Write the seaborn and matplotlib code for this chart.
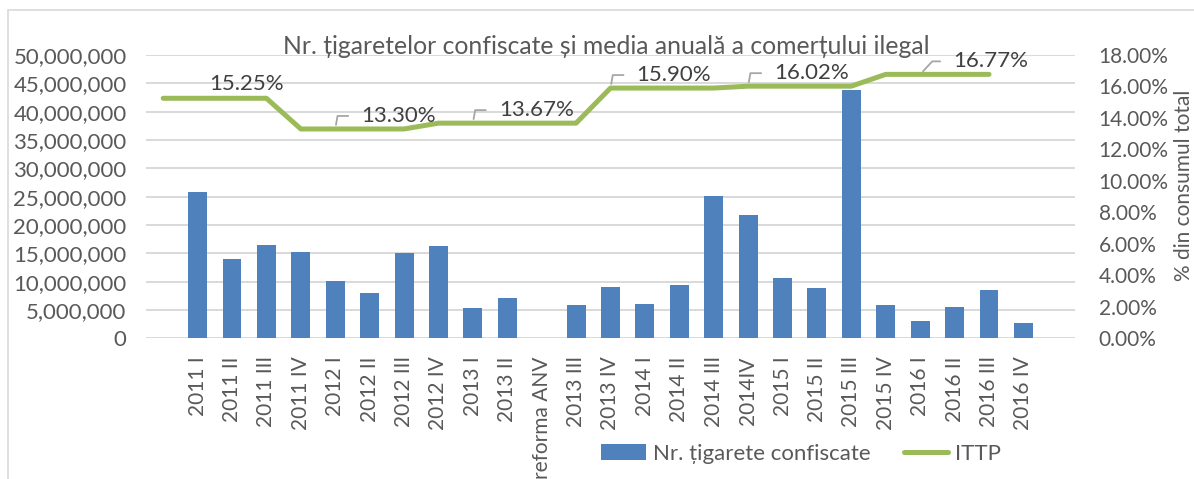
import numpy as np
import pandas as pd
import seaborn as sns
import matplotlib.pyplot as plt
from matplotlib.patches import Patch, Rectangle
from matplotlib.lines import Line2D
from matplotlib.ticker import FuncFormatter

# quarters (bars) and the ITTP line
quarters = ['2011 I', '2011 II', '2011 III', '2011 IV', '2012 I', '2012 II',
            '2012 III', '2012 IV', '2013 I', '2013 II', 'reforma ANV', '2013 III',
            '2013 IV', '2014 I', '2014 II', '2014 III', '2014IV', '2015 I',
            '2015 II', '2015 III', '2015 IV', '2016 I', '2016 II', '2016 III',
            '2016 IV']
confiscate = [25.76e6, 13.94e6, 16.47e6, 15.24e6, 10.12e6, 8.06e6,
              15.06e6, 16.29e6, 5.41e6, 7.18e6, 0, 5.82e6,
              9.12e6, 6.0e6, 9.41e6, 25.18e6, 21.76e6, 10.65e6,
              8.88e6, 43.8e6, 5.88e6, 3.12e6, 5.53e6, 8.47e6,
              2.76e6]
ittp = [15.25, 15.25, 15.25, 15.25, 13.30, 13.30, 13.30, 13.30,
        13.67, 13.67, 13.67, 13.67, 13.67, 15.90, 15.90, 15.90, 15.90,
        16.02, 16.02, 16.02, 16.02, 16.77, 16.77, 16.77, 16.77]
label_idx = [2, 5, 9, 13, 17, 22]

title = 'Nr. țigaretelor confiscate și media anuală a comerțului ilegal'
bar_name = 'Nr. țigarete confiscate'
line_name = 'ITTP'
right_label = '% din consumul total'

sns.set_style('white')
plt.rcParams['font.family'] = ['Lato', 'DejaVu Sans']
txt = '#595959'
blue = '#4f81bd'
green = '#9bbb59'
grid = '#d9d9d9'
fs = 16

df = pd.DataFrame({'pos': np.arange(1, len(quarters) + 1), 'val': confiscate})
line_df = pd.DataFrame({'pos': np.arange(0, len(ittp)), 'val': ittp})

fig = plt.figure(figsize=(11.94, 4.79), dpi=100)
ax = fig.add_axes([146 / 1194, 1 - 338.3 / 479, 929 / 1194, 283.3 / 479])
ax2 = ax.twinx()

sns.barplot(data=df, x='pos', y='val', native_scale=True, color=blue,
            saturation=1, width=0.55, linewidth=0, ax=ax)
sns.lineplot(data=line_df, x='pos', y='val', color=green, linewidth=3.6,
             solid_capstyle='round', ax=ax2)

ax.set_xlim(-0.5, len(quarters) + 1.5)
ax.set_ylim(0, 50e6)
ax.set_yticks(np.arange(0, 50e6 + 1, 5e6))
ax.yaxis.set_major_formatter(FuncFormatter(lambda v, p: f'{v:,.0f}'))
ax.set_xticks(df['pos'])
ax.set_xticklabels(quarters, rotation=90)
ax.set_axisbelow(True)
ax.grid(axis='y', color=grid, linewidth=1.4)
ax.grid(axis='x', visible=False)
ax.set_xlabel('')
ax.set_ylabel('')
ax.tick_params(axis='y', length=0, pad=14, labelsize=fs, labelcolor=txt)
ax.tick_params(axis='x', length=0, pad=13, labelsize=15, labelcolor=txt)

ax2.set_ylim(0, 18)
ax2.set_yticks(np.arange(0, 18.1, 2))
ax2.yaxis.set_major_formatter(FuncFormatter(lambda v, p: f'{v:.2f}%'))
ax2.tick_params(axis='y', length=0, pad=17, labelsize=15, labelcolor=txt)
ax2.grid(False)
ax2.set_xlabel('')
ax2.set_ylabel(right_label, fontsize=15, color=txt)
ax2.yaxis.set_label_coords(1.1065, 0.541)

for a in (ax, ax2):
    for s in a.spines.values():
        s.set_visible(False)

# data labels with leader lines
for i in label_idx:
    v = ittp[i]
    if i == label_idx[0]:
        ax2.annotate(f'{v:.2f}%', xy=(i, v), xytext=(14, 14),
                     textcoords='offset pixels', ha='center', va='center',
                     fontsize=fs, color='#404040')
        continue
    if i == label_idx[-1]:
        off, slant = (33, 13), 47
    else:
        off, slant = (26, 13), 80
    ax2.annotate(f'{v:.2f}%', xy=(i, v), xytext=off,
                 textcoords='offset pixels', ha='left', va='center',
                 fontsize=fs, color='#404040',
                 arrowprops=dict(arrowstyle='-', color='#a6a6a6', lw=1.3,
                                 relpos=(0, 0.5), shrinkA=7, shrinkB=3,
                                 connectionstyle=f'angle,angleA=180,angleB={slant},rad=0'))

fig.text(606 / 1194, 1 - 46 / 479, title, ha='center', va='center',
         fontsize=17.8, color=txt)

handles = [Patch(facecolor=blue, edgecolor='none'),
           Line2D([0], [0], color=green, linewidth=3.6, solid_capstyle='round')]
fig.legend(handles, [bar_name, line_name], loc='center',
           bbox_to_anchor=(801 / 1194, 1 - 454 / 479), ncol=2, frameon=False,
           fontsize=fs, labelcolor=txt, handlelength=2.0, handleheight=0.7,
           handletextpad=0.3, columnspacing=1.5)

fig.patches.append(Rectangle((8 / 1194, -0.1), 1.2, 1.1 - 10 / 479,
                             transform=fig.transFigure, fill=False,
                             edgecolor=grid, linewidth=1.2))

fig.savefig('out.png', dpi=100)
